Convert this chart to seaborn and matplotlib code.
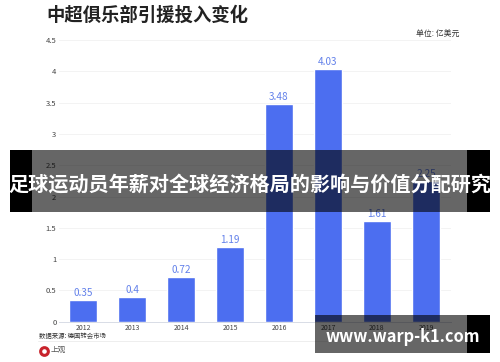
import matplotlib
matplotlib.use("Agg")
import matplotlib.pyplot as plt
from matplotlib.patches import Rectangle, Circle
import pandas as pd
import seaborn as sns

years = ["2012", "2013", "2014", "2015", "2016", "2017", "2018", "2019"]
values = [0.35, 0.4, 0.72, 1.19, 3.48, 4.03, 1.61, 2.25]
value_labels = ["0.35", "0.4", "0.72", "1.19", "3.48", "4.03", "1.61", "2.25"]
yticks = [0, 0.5, 1, 1.5, 2, 2.5, 3, 3.5, 4, 4.5]
ytick_labels = ["0", "0.5", "1", "1.5", "2", "2.5", "3", "3.5", "4", "4.5"]

W, H = 500, 362
BLUE = "#4c6ef0"
LABEL_BLUE = "#6381ea"


def px_rect(fig, x0, y0, x1, y1, **kw):
    # rectangle given in image pixels, y going down
    fig.add_artist(Rectangle((x0 / W, 1 - y1 / H), (x1 - x0) / W, (y1 - y0) / H,
                             transform=fig.transFigure, linewidth=0, **kw))


def main():
    sns.set_theme(style="white")
    plt.rcParams["font.family"] = ["Noto Sans CJK SC", "DejaVu Sans"]

    fig = plt.figure(figsize=(5, 3.62), dpi=100, facecolor="white")
    ax = fig.add_axes([58.5 / W, 1 - 321.7 / H, 392 / W, 281.7 / H])

    df = pd.DataFrame({"year": years, "value": values})
    sns.barplot(data=df, x="year", y="value", color=BLUE, saturation=1, width=0.59, ax=ax, zorder=3)

    ax.set_ylim(0, 4.5)
    ax.set_xlim(-0.5, 7.5)
    ax.set_yticks(yticks, ytick_labels)
    ax.set_xlabel("")
    ax.set_ylabel("")
    ax.tick_params(axis="y", length=0, labelsize=5.5, labelcolor="#444444", pad=1.5)
    ax.tick_params(axis="x", length=0, labelsize=5, labelcolor="#444444", pad=2)
    ax.grid(axis="y", color="#f3f3f3", linewidth=0.7)
    ax.set_axisbelow(True)
    for name, spine in ax.spines.items():
        spine.set_visible(name == "bottom")
    ax.spines["bottom"].set_color("#d8dce6")
    ax.spines["bottom"].set_linewidth(0.7)

    for i, v in enumerate(values):
        ax.annotate(value_labels[i], (i, v), xytext=(0, 1.5), textcoords="offset points",
                    ha="center", va="bottom", fontsize=7.2, color=LABEL_BLUE, fontweight="medium")

    fig.text(46.5 / W, 1 - 15.5 / H, "中超俱乐部引援投入变化", fontsize=13.2, fontweight="black",
             color="#222222", va="center", ha="left")
    fig.text(415.5 / W, 1 - 33.5 / H, "单位: 亿美元", fontsize=5.7, color="#333333", va="center", ha="left")
    fig.text(39 / W, 1 - 336 / H, "数据来源: 德国转会市场", fontsize=4.6, color="#333333", va="center", ha="left")
    fig.add_artist(plt.Line2D([38 / W, 333 / W], [1 - 340.5 / H] * 2, color="#eeeeee", linewidth=0.7))

    # logo
    ring = fig.add_axes([39 / W, 1 - 357 / H, 11 / W, 11 / H])
    ring.axis("off")
    ring.set_xlim(-1, 1)
    ring.set_ylim(-1, 1)
    ring.add_patch(Circle((0, 0), 0.7, fill=False, edgecolor="#c8232c", linewidth=2.2))
    fig.text(51 / W, 1 - 350 / H, "上观", fontsize=5.5, color="#555555", va="center", ha="left")

    # overlay banners: solid caps, see-through middle
    px_rect(fig, 10, 150, 32, 212, facecolor="black", zorder=10)
    px_rect(fig, 467, 150, 490, 212, facecolor="black", zorder=10)
    px_rect(fig, 32, 150, 467, 212, facecolor="black", alpha=0.6, zorder=10)
    fig.text(250 / W, 1 - 184 / H, "足球运动员年薪对全球经济格局的影响与价值分配研究", fontsize=14.5,
             fontweight="black", color="white", va="center", ha="center", zorder=12)

    px_rect(fig, 467, 315, 490, 353, facecolor="black", zorder=10)
    px_rect(fig, 315, 315, 467, 353, facecolor="black", alpha=0.6, zorder=10)
    fig.text(402.5 / W, 1 - 337 / H, "www.warp-k1.com", fontsize=11.8, fontweight="black",
             color="white", va="center", ha="center", zorder=12)

    fig.savefig("out.png", dpi=100)


if __name__ == "__main__":
    main()
